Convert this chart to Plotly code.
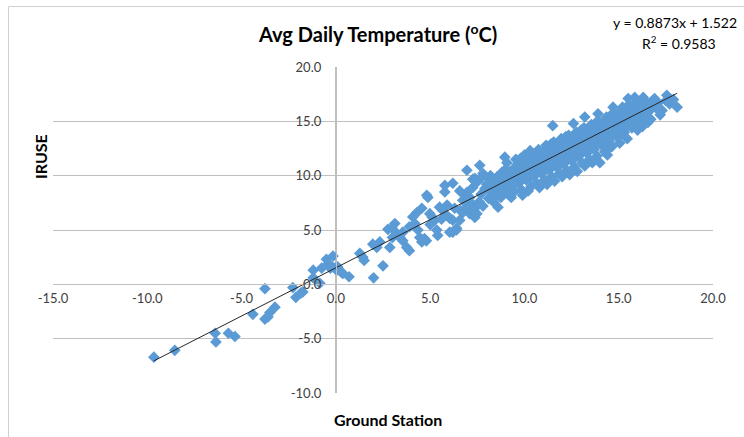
import plotly.graph_objects as go

# ---- data ----
cold_x = [-9.65, -8.54, -6.4, -6.36, -5.7, -5.35, -4.4, -3.76, -3.76, -3.6, -3.5, -3.23,
          -2.28, -2.12, -1.86, -1.75, -1.2, -1.2, -0.85, -0.75, -0.5, -0.4, -0.3, -0.2, -0.15, -0.05]
cold_y = [-6.7, -6.07, -4.5, -5.3, -4.5, -4.8, -2.76, -0.4, -3.2, -3.0, -2.6, -2.1,
          -0.3, -1.2, -0.8, -0.7, 1.3, 0.6, 0.1, 1.5, 2.3, 1.9, 1.5, 1.6, 2.6, 1.5]

mid_x = [0.05, 0.1, 0.3, 0.37, 0.7, 1.27, 1.43, 1.5, 1.96, 2.17, 2.33, 2.0, 2.5, 2.76, 2.97,
         3.13, 3.23, 3.0, 2.86, 3.4, 3.55, 3.76, 3.9, 3.55, 4.08, 4.19, 4.35, 4.45, 4.56, 4.7,
         4.8, 4.82, 4.88, 4.56, 4.98, 5.1, 5.25, 5.35, 5.4, 5.5, 5.67, 5.88, 6.04, 6.2, 6.4,
         6.04, 5.78, 6.2, 5.78, 6.57, 6.84, 7.0, 7.2, 7.37, 7.48, 6.95, 7.1, 6.95, 7.37, 7.26,
         7.48, 7.63, 7.8, 7.74, 6.73, 6.95, 7.1, 7.26, 7.48, 7.2, 7.37, 6.73, 6.57, 6.4, 6.2,
         5.0, 5.6, 5.9, 6.3, 6.6, 4.3, 3.9]
mid_y = [1.3, 1.6, 1.1, 1.0, 0.7, 2.85, 2.5, 2.2, 3.7, 3.4, 3.9, 0.6, 1.7, 5.06, 5.2,
         5.6, 4.7, 4.3, 3.4, 4.3, 4.0, 3.4, 3.1, 4.8, 6.2, 5.6, 5.0, 4.3, 3.9, 4.2,
         4.0, 8.2, 8.0, 7.0, 6.5, 6.2, 5.9, 5.0, 4.5, 7.1, 6.8, 6.35, 6.07, 5.9, 5.15,
         4.8, 9.1, 9.3, 8.5, 8.6, 8.2, 7.7, 7.45, 7.0, 6.5, 7.1, 6.5, 10.5, 9.75, 9.66,
         9.4, 10.95, 10.2, 9.84, 7.73, 8.46, 8.0, 8.9, 9.57, 7.1, 6.16, 6.6, 5.9, 5.0, 4.8,
         5.5, 6.0, 7.3, 7.0, 6.8, 6.6, 5.3]

core_x = [7.6, 7.7, 7.9, 8.0, 7.8,
          8.1, 8.2, 8.3, 8.4, 8.2, 8.35, 8.1,
          8.5, 8.6, 8.7, 8.55, 8.8, 8.6, 8.75,
          8.96, 9.07, 8.9, 9.0, 9.1, 9.2, 9.0, 9.15,
          9.3, 9.4, 9.5, 9.35, 9.6, 9.45, 9.55, 9.3,
          9.7, 9.8, 9.9, 10.0, 9.75, 9.85, 10.0, 9.9,
          10.1, 10.2, 10.3, 10.4, 10.15, 10.3, 10.35, 10.2,
          10.5, 10.6, 10.7, 10.8, 10.55, 10.75, 10.65, 10.8,
          10.9, 11.0, 11.1, 11.2, 10.95, 11.15, 11.05, 11.2,
          11.3, 11.4, 11.5, 11.6, 11.35, 11.5, 11.55, 11.45, 11.6,
          11.7, 11.8, 11.9, 12.0, 11.75, 11.95, 11.85, 12.0,
          12.1, 12.2, 12.3, 12.4, 12.15, 12.35, 12.25, 12.4,
          12.5, 12.6, 12.7, 12.8, 12.55, 12.6, 12.75, 12.65, 12.8,
          12.9, 13.0, 13.1, 13.2, 12.95, 13.2, 13.15, 13.05, 13.2,
          13.3, 13.4, 13.5, 13.6, 13.35, 13.55, 13.45, 13.6,
          13.7, 13.8, 13.9, 14.0, 13.75, 13.9, 13.95, 13.85, 14.0,
          14.1, 14.2, 14.3, 14.4, 14.15, 14.35, 14.25, 14.4,
          14.5, 14.6, 14.7, 14.8, 14.55, 14.7, 14.75, 14.5, 14.65,
          14.9, 15.0, 15.1, 15.2, 14.95, 15.2, 15.15, 15.05,
          15.3, 15.4, 15.5, 15.6, 15.35, 15.5, 15.55, 15.45,
          15.7, 15.8, 15.9, 16.0, 15.75, 15.85, 16.0, 15.95,
          16.1, 16.2, 16.3, 16.4, 16.15, 16.3, 16.25,
          16.5, 16.6, 16.7, 16.8, 16.55, 16.7,
          16.9, 17.0, 17.1, 17.3, 17.2,
          17.55, 17.5, 17.7, 18.1, 17.9]
core_y = [7.6, 8.3, 8.8, 9.2, 7.2,
          7.9, 8.5, 9.0, 9.5, 10.0, 7.6, 9.8,
          8.2, 8.7, 9.3, 9.9, 10.3, 7.1, 8.0,
          11.7, 11.2, 8.6, 9.1, 9.6, 10.1, 10.6, 8.3,
          9.0, 9.5, 10.0, 10.5, 11.0, 8.5, 11.5, 8.0,
          9.3, 9.8, 10.3, 10.8, 11.3, 8.7, 11.9, 8.2,
          9.6, 10.1, 10.6, 11.1, 11.6, 12.3, 9.0, 8.6,
          9.9, 10.4, 10.9, 11.4, 11.9, 12.4, 9.3, 8.9,
          10.2, 10.7, 11.2, 11.7, 12.2, 12.8, 9.6, 9.2,
          10.5, 11.0, 11.5, 12.0, 12.5, 14.6, 13.1, 9.9, 9.5,
          10.8, 11.3, 11.8, 12.3, 12.8, 13.4, 10.2, 9.9,
          11.1, 11.6, 12.1, 12.6, 13.1, 13.7, 10.5, 10.1,
          11.4, 11.9, 12.4, 12.9, 13.4, 14.8, 14.0, 10.8, 10.4,
          11.8, 12.3, 12.8, 13.3, 13.8, 15.4, 14.4, 11.2, 10.9,
          12.1, 12.6, 13.1, 13.6, 14.1, 14.7, 11.5, 11.2,
          12.4, 12.9, 13.4, 13.9, 14.4, 15.7, 15.0, 11.8, 11.2,
          12.8, 13.3, 13.8, 14.3, 14.8, 15.4, 12.2, 11.9,
          13.2, 13.7, 14.2, 14.7, 15.2, 16.3, 15.8, 12.5, 12.7,
          13.6, 14.1, 14.6, 15.1, 15.6, 16.3, 16.0, 13.0,
          14.0, 14.5, 15.0, 15.5, 16.0, 17.1, 16.5, 13.4,
          14.4, 14.9, 15.4, 15.9, 16.4, 17.2, 14.2, 16.8,
          14.9, 15.4, 15.9, 16.4, 16.9, 17.2, 14.5,
          15.4, 15.9, 16.4, 16.9, 14.9, 15.2,
          17.1, 16.2, 16.7, 16.0, 15.6,
          17.4, 16.9, 16.6, 16.3, 17.0]

fill_x = [9.2, 9.25, 9.6, 9.65, 10.0, 10.05, 10.4, 10.45, 10.8, 10.85, 11.2, 11.25, 11.6, 11.65,
          12.0, 12.05, 12.4, 12.45, 12.8, 12.85, 13.2, 13.25, 13.6, 13.65, 14.0, 14.05, 14.4,
          14.45, 14.8, 14.85, 15.2, 15.25, 15.6, 15.65, 16.0, 16.05, 16.4, 16.45,
          9.5, 10.3, 11.1, 11.9, 12.7, 13.5, 14.3, 15.1, 15.9, 16.6,
          9.8, 10.6, 11.4, 12.2, 13.0, 13.8, 14.6, 15.4, 16.2,
          8.85, 9.45, 9.95, 10.55, 11.05, 11.55, 12.1, 12.6, 13.1, 13.55, 14.1, 14.65,
          15.1, 15.65, 16.1, 16.75, 8.45, 9.05, 9.65, 10.25, 10.9, 11.45, 12.05, 12.55,
          13.05, 13.7, 14.2, 14.75, 15.3, 15.8, 16.35]
fill_y = [9.3, 10.4, 9.7, 10.6, 10.0, 11.2, 10.3, 11.5, 10.6, 11.8, 10.9, 12.2, 11.2, 12.5,
          11.5, 12.8, 11.8, 13.1, 12.1, 13.5, 12.5, 13.8, 12.8, 14.1, 13.1, 14.5, 13.5,
          14.9, 13.9, 15.3, 14.3, 15.7, 14.7, 16.1, 15.1, 16.5, 15.6, 16.8,
          9.2, 9.8, 10.5, 11.0, 11.7, 12.4, 13.1, 13.8, 14.6, 15.1,
          11.6, 12.1, 12.9, 13.6, 14.2, 14.9, 15.6, 16.3, 16.7,
          9.8, 10.3, 10.7, 11.2, 11.7, 12.1, 12.6, 13.0, 13.5, 13.9, 14.4, 14.9,
          15.3, 15.8, 16.2, 16.6, 9.1, 9.4, 9.9, 10.2, 10.8, 11.1, 11.7, 12.0,
          12.4, 13.0, 13.4, 13.9, 14.5, 15.0, 15.4]

slope = 0.8873
intercept = 1.522
r_squared = 0.9583

x_ticks = [-15, -10, -5, 0, 5, 10, 15, 20]
y_ticks = [-10, -5, 0, 5, 10, 15, 20]

ground_station = cold_x + mid_x + core_x + fill_x
iruse = cold_y + mid_y + core_y + fill_y

FONT = "Lato"
BLUE = "#5B9BD5"
GRID = "#BFBFBF"

fig = go.Figure()
fig.add_trace(go.Scatter(
    x=ground_station, y=iruse, mode="markers",
    marker=dict(symbol="diamond", size=9, color=BLUE, line=dict(width=0)),
    hoverinfo="x+y", showlegend=False))

x_lo, x_hi = min(ground_station), max(ground_station)
fig.add_trace(go.Scatter(
    x=[x_lo, x_hi], y=[slope * x_lo + intercept, slope * x_hi + intercept],
    mode="lines", line=dict(color="#262626", width=1), showlegend=False, hoverinfo="skip"))

fig.update_layout(
    width=744, height=437,
    margin=dict(l=53, r=31, t=67, b=44),
    paper_bgcolor="white", plot_bgcolor="white",
    font=dict(family=FONT, size=13, color="#404040"),
    xaxis=dict(range=[-15, 20], tickvals=x_ticks, ticktext=[f"{v:.1f}" for v in x_ticks],
               showgrid=False, zeroline=True, zerolinecolor=GRID, zerolinewidth=1,
               showline=True, linecolor=GRID, linewidth=1,
               anchor="free", position=1/3, ticks="", ticklen=0, ticklabelstandoff=2,
               tickfont=dict(family=FONT, size=13, color="#404040")),
    yaxis=dict(range=[-10, 20], tickvals=y_ticks, ticktext=[f"{v:.1f}" for v in y_ticks],
               showgrid=True, gridcolor=GRID, gridwidth=1, zeroline=False,
               showline=True, linecolor=GRID, linewidth=1,
               anchor="free", position=3/7, ticks="", ticklen=0, ticklabelstandoff=12,
               tickfont=dict(family=FONT, size=13, color="#404040")),
    shapes=[dict(type="rect", xref="paper", yref="paper",
                 x0=(8.5 - 53) / 660, x1=(760 - 53) / 660,
                 y0=(393 - 460) / 326, y1=(393 - 6.5) / 326,
                 line=dict(color="#D0D0D0", width=1), fillcolor="rgba(0,0,0,0)", layer="below")],
    annotations=[
        dict(text="<b>Avg Daily Temperature (<sup>o</sup>C)</b>", xref="paper", yref="paper",
             x=(377 - 53) / 660, y=(393 - 33) / 326, xanchor="center", yanchor="middle",
             showarrow=False, font=dict(family=FONT, size=20, color="#000000")),
        dict(text=f"y = {slope}x + {intercept}", xref="paper", yref="paper",
             x=(739 - 53) / 660, y=(393 - 23) / 326, xanchor="right", yanchor="middle",
             showarrow=False, font=dict(family=FONT, size=14, color="#000000")),
        dict(text=f"R<sup>2</sup> = {r_squared}", xref="paper", yref="paper",
             x=(679 - 53) / 660, y=(393 - 42) / 326, xanchor="center", yanchor="middle",
             showarrow=False, font=dict(family=FONT, size=14, color="#000000")),
        dict(text="<b>IRUSE</b>", xref="paper", yref="paper", textangle=-90,
             x=(40 - 53) / 660, y=(393 - 157) / 326, xanchor="center", yanchor="middle",
             showarrow=False, font=dict(family=FONT, size=16, color="#000000")),
        dict(text="<b>Ground Station</b>", xref="paper", yref="paper",
             x=(388 - 53) / 660, y=(393 - 419) / 326, xanchor="center", yanchor="middle",
             showarrow=False, font=dict(family=FONT, size=16, color="#000000")),
    ],
)

fig.write_html("out.html", config={"displayModeBar": False},
               post_script="document.body.style.margin='0px';document.body.style.overflow='hidden';")
